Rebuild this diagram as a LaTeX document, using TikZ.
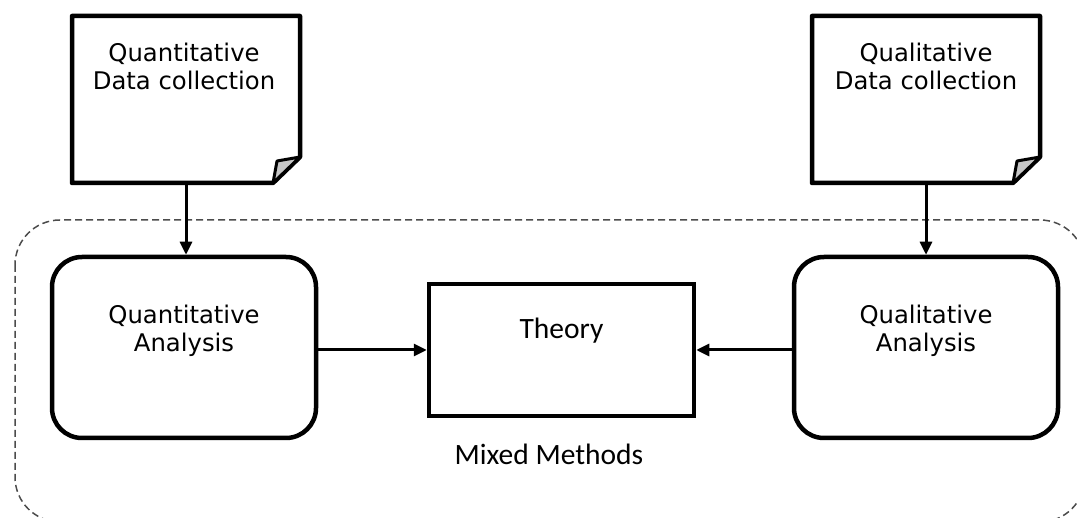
\documentclass[tikz,border=0pt]{standalone}
\usepackage{fontspec}
\setmainfont{DejaVu Sans}
\newfontfamily\theoryfont{Carlito}
\usetikzlibrary{arrows.meta}

\tikzset{
  docbox/.style={minimum width=228pt, minimum height=167pt, outer sep=0pt, inner sep=0pt},
  anabox/.style={draw, line width=4.5pt, rounded corners=30pt, minimum width=264pt, minimum height=181pt},
  theorybox/.style={draw, line width=4.5pt, minimum width=265pt, minimum height=132pt},
  boxtext/.style={align=center, anchor=north, inner sep=0pt, font=\fontsize{24.3}{28}\selectfont},
  calitext/.style={inner sep=0pt, font=\theoryfont\fontsize{29.5}{34}\selectfont},
  doc/.style={line width=4.5pt, line join=round},
  fold/.style={line width=3pt, fill=gray!45, line join=round},
  frame/.style={draw=black!70, line width=1.5pt, dash pattern=on 7pt off 4pt, rounded corners=45pt},
  arrow/.style={->, line width=3pt},
}

\begin{document}
\begin{tikzpicture}[x=1pt,y=-1pt,>={Triangle[length=13pt,width=12pt]}]
\useasboundingbox (0,0) rectangle (1077,518);
% mixed methods frame
\draw[frame] (15,220) rectangle (1085,522);

% boxes
\node[docbox] (qndoc) at (186,99.5) {};
\node[docbox] (qldoc) at (926,99.5) {};
\node[anabox] (qnana) at (184,347.5) {};
\node[anabox] (qlana) at (926,347.5) {};
\node[theorybox] (theory) at (561.5,350) {};

% documents with folded corner
\foreach \d in {qndoc,qldoc}{
  \draw[doc] (\d.north west) -- (\d.north east) -- ([yshift=26pt]\d.south east)
    -- ([xshift=-27pt]\d.south east) -- (\d.south west) -- cycle;
  \filldraw[fold] ([yshift=26pt]\d.south east) -- ([xshift=-27pt]\d.south east)
    -- ([xshift=-23pt,yshift=22pt]\d.south east) -- cycle;
}

% texts
\node[boxtext] (qndoctext) at ([xshift=-2pt,yshift=-27pt]qndoc.north) {Quantitative\\Data collection};
\node[boxtext] (qldoctext) at ([yshift=-27pt]qldoc.north) {Qualitative\\Data collection};
\node[boxtext] (qnanatext) at ([yshift=-50pt]qnana.north) {Quantitative\\Analysis};
\node[boxtext] (qlanatext) at ([yshift=-50pt]qlana.north) {Qualitative\\Analysis};
\node[calitext,anchor=north] (theorytext) at ([yshift=-36.5pt]theory.north) {Theory};
\node[calitext,anchor=base] (mixed) at ([xshift=-12.5pt,yshift=-46.75pt]theory.south) {Mixed Methods};

% arrows
\draw[arrow] (qndoc.south) -- (qndoc.south |- qnana.north);
\draw[arrow] (qldoc.south) -- (qlana.north);
\draw[arrow] (qnana.east |- theory) -- (theory.west);
\draw[arrow] (qlana.west |- theory) -- (theory.east);
\end{tikzpicture}
\end{document}
